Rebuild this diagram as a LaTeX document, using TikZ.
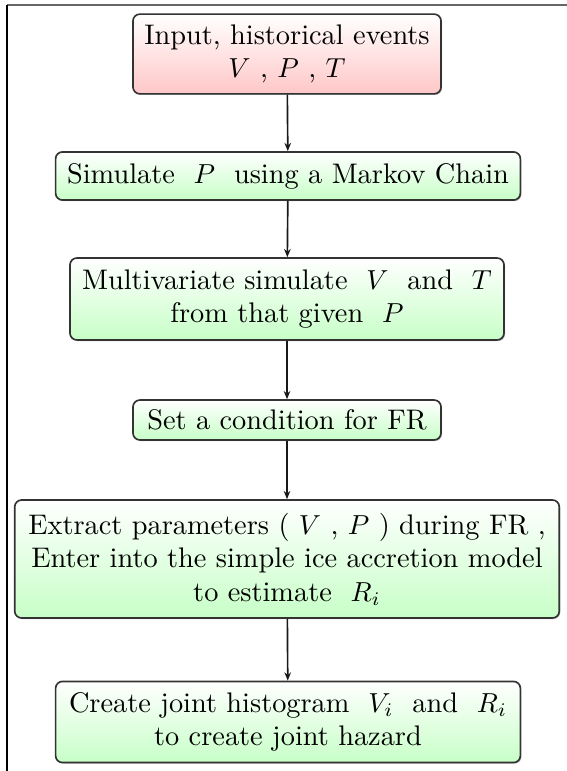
\documentclass[tikz,border=0pt]{standalone}
\usetikzlibrary{shadows,arrows.meta}
\begin{document}
\begin{tikzpicture}[x=0.3636pt,y=-0.3636pt,
  boxbase/.style={draw=black!80, line width=0.6pt, rounded corners=2.5pt, align=center,
    inner sep=0pt, font=\fontsize{10.3pt}{12.2pt}\selectfont,
    drop shadow={shadow xshift=0.4pt, shadow yshift=-0.4pt, opacity=0.5}},
  redbox/.style={boxbase, top color=white, bottom color=red!22},
  greenbox/.style={boxbase, top color=white, bottom color=green!22},
  conn/.style={-{Stealth[length=3pt,width=2.4pt]}, line width=0.6pt, black!90},
  framel/.style={line width=0.5pt}]
\useasboundingbox (0,0) rectangle (567,771);
\draw[framel, black!60] (7,5) -- (567,5);
\draw[framel] (7,5) -- (7,771);
\node[redbox, minimum width=112pt, minimum height=29pt] (n1) at (287,54)
  {Input, historical events\\ $V$ ,\ $P$ ,\ $T$};
\node[greenbox, minimum width=169pt, minimum height=17.5pt] (n2) at (288,176)
  {Simulate\ \ $P$\ \ using a Markov Chain};
\node[greenbox, minimum width=157.8pt, minimum height=29.8pt] (n3) at (287,299)
  {Multivariate simulate\ \ $V$\ \ and\ \ $T$\\ from that given\ \ $P$};
\node[greenbox, minimum width=112pt, minimum height=14.5pt] (n4) at (287,420)
  {Set a condition for FR};
\node[greenbox, minimum width=198pt, minimum height=42.9pt] (n5) at (287,559)
  {Extract parameters ( $V$ ,\ $P$ ) during FR ,\\ Enter into the simple ice accretion model\\ to estimate\ \ $R_i$};
\node[greenbox, minimum width=169pt, minimum height=29.5pt] (n6) at (288,722)
  {Create joint histogram\ \ $V_i$\ \ and\ \ $R_i$\\ to create joint hazard};
\draw[conn] (n1) -- (n2);
\draw[conn] (n2) -- (n3);
\draw[conn] (n3) -- (n4);
\draw[conn] (n4) -- (n5);
\draw[conn] (n5) -- (n6);
\end{tikzpicture}
\end{document}
